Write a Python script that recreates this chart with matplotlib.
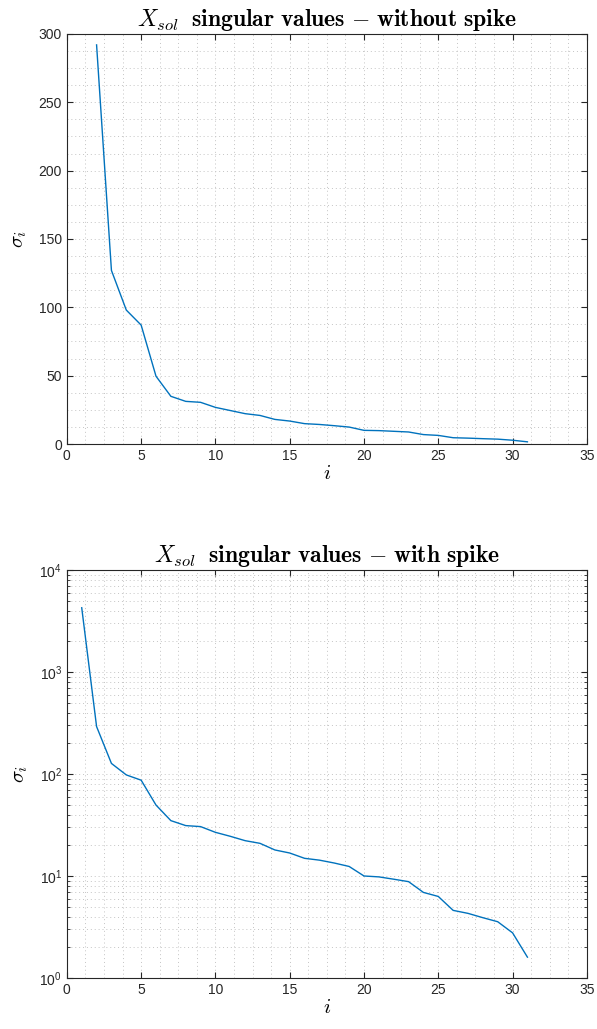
import math
import matplotlib
matplotlib.use("Agg")
import matplotlib.pyplot as plt
from matplotlib.ticker import MultipleLocator, LogLocator, FuncFormatter, NullFormatter

plt.rcParams["font.family"] = "Liberation Sans"
plt.rcParams["mathtext.fontset"] = "cm"

# ── data ─────────────────────────────────────────────────────────────────────
idx = list(range(1, 32))
sigma = [4270, 292, 127, 98, 87, 49.6, 34.9, 31.2, 30.5, 26.8,
         24.5, 22.2, 20.9, 18.0, 16.8, 14.9, 14.3, 13.4, 12.4, 10.0,
         9.8, 9.3, 8.8, 6.9, 6.3, 4.6, 4.3, 3.9, 3.56, 2.77, 1.6]

LINE = "#0072BD"
AXC = "#262626"


def style_axes(ax):
    ax.tick_params(which="both", direction="in", top=True, right=True,
                   colors=AXC, labelsize=10)
    ax.tick_params(which="major", length=4)
    ax.tick_params(which="minor", length=2.5)
    for s in ax.spines.values():
        s.set_color(AXC)
        s.set_linewidth(0.8)
    ax.grid(True, which="both", linestyle=(0, (1, 3)), linewidth=0.7, color="#c4c4c4")
    ax.set_axisbelow(True)


fig = plt.figure(figsize=(5.97, 10.29), dpi=100)

# ── top: without spike ───────────────────────────────────────────────────────
ax1 = fig.add_axes([0.112, 0.5685, 0.871, 0.3985])
ax1.plot(idx[1:], sigma[1:], color=LINE, linewidth=1.0)
ax1.set_xlim(0, 35)
ax1.set_ylim(0, 300)
ax1.xaxis.set_major_locator(MultipleLocator(5))
ax1.xaxis.set_minor_locator(MultipleLocator(1.25))
ax1.yaxis.set_major_locator(MultipleLocator(50))
ax1.yaxis.set_minor_locator(MultipleLocator(12.5))
style_axes(ax1)
ax1.tick_params(which="minor", length=0)
ax1.set_title(r"$X_{sol}\;\ \mathbf{singular\ values\ {-}\ without\ spike}$",
              fontsize=17, pad=6)
ax1.set_xlabel(r"$i$", fontsize=15, labelpad=1)
ax1.set_ylabel(r"$\sigma_i$", fontsize=15, labelpad=7)

# ── bottom: with spike (log) ─────────────────────────────────────────────────
ax2 = fig.add_axes([0.112, 0.0496, 0.871, 0.3964])
ax2.semilogy(idx, sigma, color=LINE, linewidth=1.0)
ax2.set_xlim(0, 35)
ax2.set_ylim(1, 1e4)
ax2.xaxis.set_major_locator(MultipleLocator(5))
ax2.xaxis.set_minor_locator(MultipleLocator(1.25))
ax2.yaxis.set_major_locator(LogLocator(base=10, numticks=10))
ax2.yaxis.set_minor_locator(LogLocator(base=10, subs=range(2, 10), numticks=20))
ax2.yaxis.set_major_formatter(FuncFormatter(lambda v, p: r"$\mathregular{10^{%d}}$" % round(math.log10(v))))
ax2.yaxis.set_minor_formatter(NullFormatter())
style_axes(ax2)
ax2.tick_params(axis="x", which="minor", length=0)
ax2.set_title(r"$X_{sol}\;\ \mathbf{singular\ values\ {-}\ with\ spike}$",
              fontsize=17, pad=6)
ax2.set_xlabel(r"$i$", fontsize=15, labelpad=1)
ax2.set_ylabel(r"$\sigma_i$", fontsize=15, labelpad=7)

fig.savefig("out.png", dpi=100)
